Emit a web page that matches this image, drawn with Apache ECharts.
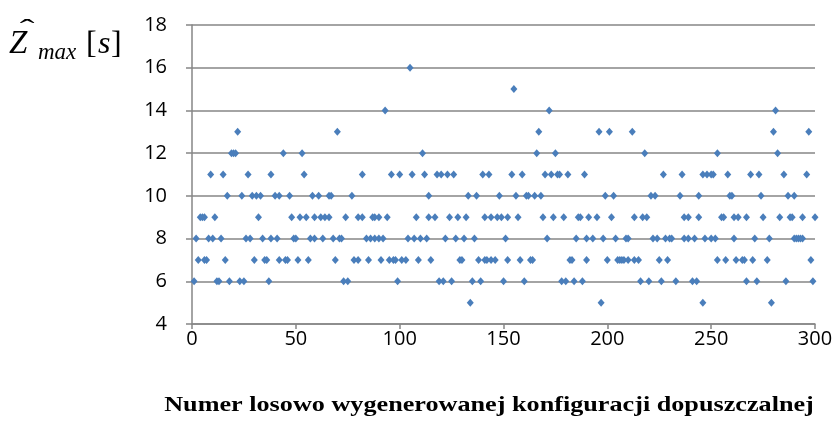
<!DOCTYPE html>
<html>
<head>
<meta charset="utf-8">
<script src="https://cdn.jsdelivr.net/npm/echarts@6/dist/echarts.min.js"></script>
<style>
html,body{margin:0;padding:0;background:#fff;}
#chart{width:838px;height:439px;}
</style>
</head>
<body>
<div id="chart"></div>
<script>
// Configuration index (x) grouped by observed value of Z_max [s]
var z5  = [134, 197, 246, 279];
var z6  = [1, 12, 13, 18, 23, 25, 37, 73, 75, 99, 119, 121, 125, 135, 139, 150, 160, 178, 180, 184, 188, 216, 220, 226, 233, 241, 243, 267, 272, 286, 299];
var z7  = [3, 6, 7, 16, 30, 35, 36, 42, 45, 46, 51, 56, 69, 78, 80, 85, 91, 95, 97, 98, 101, 103, 109, 115, 129, 130, 138, 141, 142, 144, 146, 152, 158, 163, 164, 182, 183, 190, 200, 205, 206, 207, 208, 210, 213, 215, 225, 229, 253, 257, 262, 265, 266, 270, 277, 298];
var z8  = [2, 8, 10, 14, 26, 28, 34, 38, 41, 49, 50, 57, 59, 63, 68, 71, 72, 84, 86, 88, 90, 92, 104, 107, 110, 113, 122, 127, 131, 136, 151, 171, 185, 190, 193, 198, 204, 209, 210, 222, 224, 228, 230, 231, 237, 239, 242, 247, 250, 252, 261, 271, 278, 290, 291, 292, 293, 294];
var z9  = [4, 5, 6, 11, 32, 48, 52, 55, 59, 62, 64, 66, 74, 80, 82, 87, 88, 90, 94, 108, 114, 117, 124, 128, 132, 141, 144, 147, 149, 152, 157, 169, 174, 179, 186, 187, 191, 195, 202, 213, 217, 219, 237, 239, 244, 255, 256, 261, 263, 267, 275, 283, 288, 289, 294, 300];
var z10 = [17, 24, 29, 31, 33, 40, 42, 47, 58, 61, 66, 67, 77, 114, 133, 137, 148, 156, 161, 162, 165, 168, 199, 203, 221, 223, 235, 244, 259, 260, 274, 287, 290];
var z11 = [9, 15, 27, 38, 54, 82, 96, 100, 106, 112, 118, 120, 123, 126, 140, 143, 154, 159, 170, 173, 176, 177, 181, 189, 227, 236, 246, 248, 250, 251, 258, 269, 273, 285, 296];
var z12 = [19, 20, 21, 44, 53, 111, 166, 175, 218, 253, 282];
var z13 = [22, 70, 167, 196, 201, 212, 280, 297];
var z14 = [93, 172, 281];
var z15 = [155];
var z16 = [105];

var levels = [[5, z5], [6, z6], [7, z7], [8, z8], [9, z9], [10, z10], [11, z11], [12, z12], [13, z13], [14, z14], [15, z15], [16, z16]];
var xTicks = [0, 50, 100, 150, 200, 250, 300];
var yTicks = [4, 6, 8, 10, 12, 14, 16, 18];
var xTitle = 'Numer losowo wygenerowanej konfiguracji dopuszczalnej';

var points = [];
levels.forEach(function (lv) {
  lv[1].forEach(function (x) { points.push([x, lv[0]]); });
});

var chart = echarts.init(document.getElementById('chart'), null, {renderer: 'canvas'});
var gray = '#868686';
var serif = '"Liberation Serif"';
chart.setOption({
  animation: false,
  backgroundColor: '#ffffff',
  grid: {left: 192, right: 23, top: 25, bottom: 115, containLabel: false},
  xAxis: {
    type: 'value',
    min: xTicks[0], max: xTicks[xTicks.length - 1], interval: 50,
    axisLine: {show: true, onZero: false, lineStyle: {color: gray, width: 1.5}},
    axisTick: {show: true, length: 5, lineStyle: {color: gray, width: 1.5}},
    splitLine: {show: false},
    axisLabel: {color: '#000', fontFamily: 'Open Sans', fontSize: 20, margin: 5}
  },
  yAxis: {
    type: 'value',
    min: yTicks[0], max: yTicks[yTicks.length - 1], interval: 2,
    axisLine: {show: true, lineStyle: {color: gray, width: 1.5}},
    axisTick: {show: true, length: 6, lineStyle: {color: gray, width: 1.5}},
    splitLine: {show: true, lineStyle: {color: gray, width: 1.5}},
    axisLabel: {color: '#000', fontFamily: 'Open Sans', fontSize: 20, margin: 25}
  },
  series: [{
    type: 'scatter',
    data: points,
    symbol: 'diamond',
    symbolSize: [7, 8],
    itemStyle: {color: '#4a7ebb', opacity: 1}
  }],
  graphic: [
    {type: 'text', x: 9, y: 44, style: {text: 'Z', font: 'italic 33px ' + serif, fill: '#000', align: 'left', verticalAlign: 'middle'}},
    {type: 'text', x: 27, y: 30, scaleX: 1.7, style: {text: '\u02C6', x: 0, y: 0, font: '26px ' + serif, fill: '#000', align: 'center', verticalAlign: 'middle'}},
    {type: 'text', x: 38, y: 53, style: {text: 'max', font: 'italic 23px ' + serif, fill: '#000', align: 'left', verticalAlign: 'middle'}},
    {type: 'text', x: 86, y: 45, style: {text: '[', font: '32px ' + serif, fill: '#000', align: 'left', verticalAlign: 'middle'}},
    {type: 'text', x: 98, y: 45, style: {text: 's', font: 'italic 32px ' + serif, fill: '#000', align: 'left', verticalAlign: 'middle'}},
    {type: 'text', x: 111, y: 45, style: {text: ']', font: '32px ' + serif, fill: '#000', align: 'left', verticalAlign: 'middle'}},
    {type: 'text', x: 489, y: 405, scaleX: 1.19, style: {text: xTitle, x: 0, y: 0, font: 'bold 22px ' + serif, fill: '#000', align: 'center', verticalAlign: 'middle'}}
  ]
});
</script>
</body>
</html>
